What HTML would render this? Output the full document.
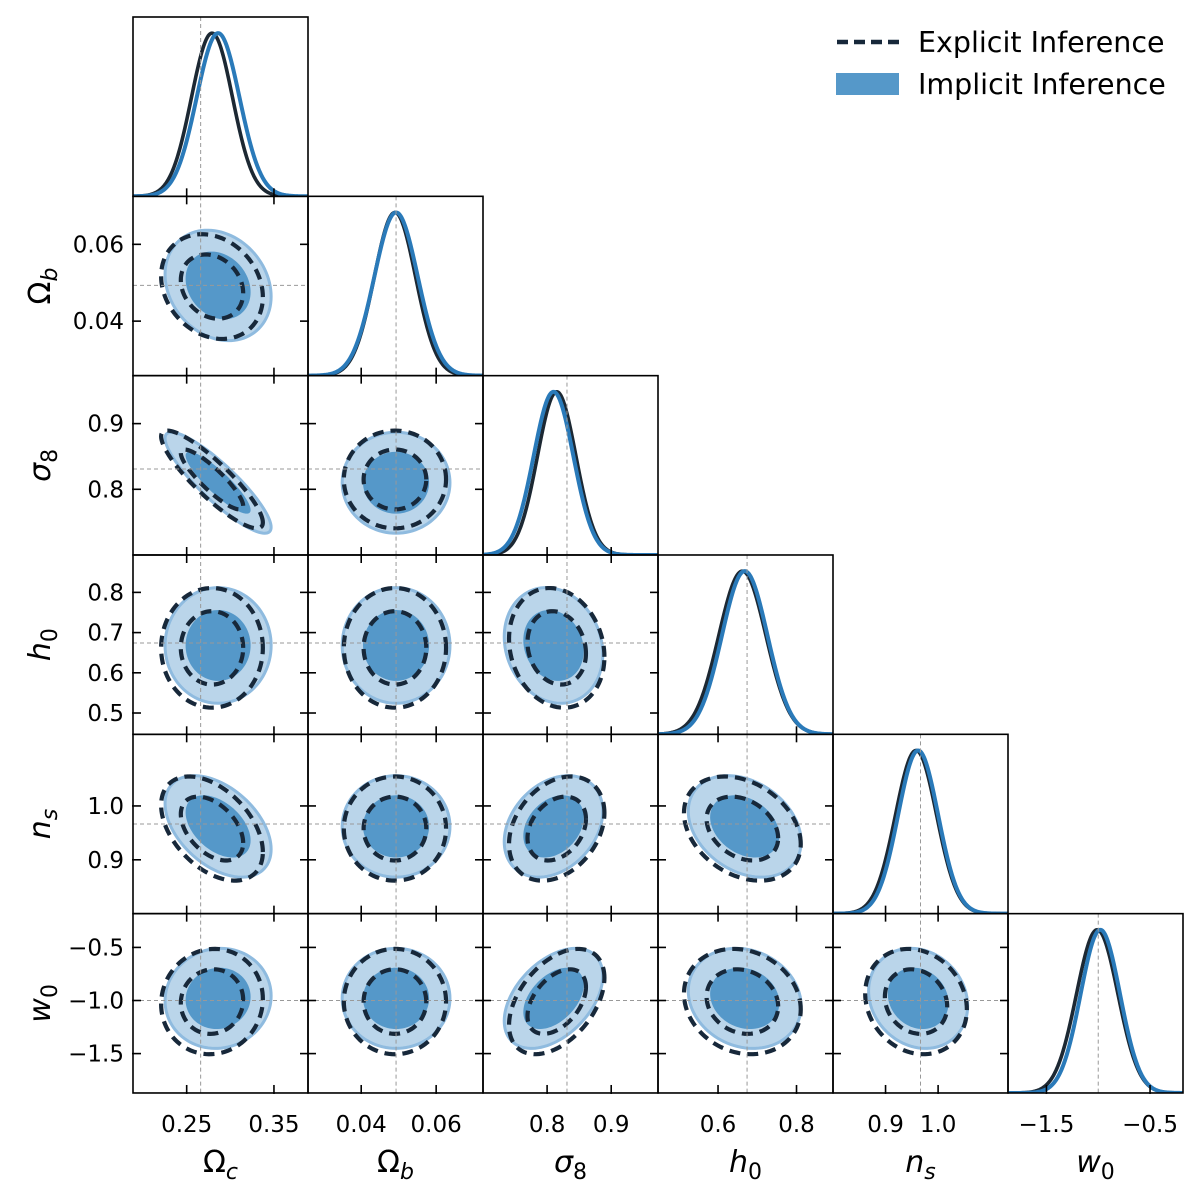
<!DOCTYPE html>
<html><head><meta charset="utf-8"><style>
html,body{margin:0;padding:0;background:#fff;}
svg{display:block;font-family:"DejaVu Sans","Liberation Sans",sans-serif;}
</style></head><body>
<svg id="chart" width="1200" height="1197" viewBox="0 0 1200 1197" xmlns="http://www.w3.org/2000/svg"></svg>
<script>
const paramNames = ["Ωc","Ωb","σ8","h0","ns","w0"];
const axisMin = [0.1885, 0.0258, 0.700, 0.447, 0.800, -1.871];
const axisMax = [0.389, 0.0725, 0.973, 0.893, 1.133, -0.182];
const truthValues = [0.266, 0.0493, 0.831, 0.674, 0.9665, -1.0];
const implicitMean = [0.286, 0.0493, 0.810, 0.668, 0.962, -0.98];
const explicitMean = [0.279, 0.0490, 0.815, 0.662, 0.958, -1.01];
const implicitSigma = [0.0245, 0.0058, 0.031, 0.058, 0.038, 0.19];
const explicitSigma = [0.0235, 0.0055, 0.030, 0.060, 0.039, 0.20];
const correlation = [
 [1, -0.2, -0.88, 0.0, -0.45, 0.05],
 [-0.2, 1, 0.0, 0.0, 0.0, 0.0],
 [-0.88, 0.0, 1, -0.15, 0.3, 0.45],
 [0.0, 0.0, -0.15, 1, -0.3, -0.15],
 [-0.45, 0.0, 0.3, -0.3, 1, -0.15],
 [0.05, 0.0, 0.45, -0.15, -0.15, 1]
];
const tickValues = [[0.25,0.35],[0.04,0.06],[0.8,0.9],[0.6,0.8],[0.9,1.0],[-1.5,-0.5]];
const yTickValues = [[],[0.04,0.06],[0.8,0.9],[0.5,0.6,0.7,0.8],[0.9,1.0],[-1.5,-1.0,-0.5]];
const tickLabels = [["0.25","0.35"],["0.04","0.06"],["0.8","0.9"],["0.6","0.8"],["0.9","1.0"],["−1.5","−0.5"]];
const yTickLabels = [[],["0.04","0.06"],["0.8","0.9"],["0.5","0.6","0.7","0.8"],["0.9","1.0"],["−1.5","−1.0","−0.5"]];

const NS="http://www.w3.org/2000/svg";
const svg=document.getElementById("chart");
const L0=133, PW=175, T0=17, PH=179.33;
function el(tag,attrs,parent){const e=document.createElementNS(NS,tag);for(const k in attrs)e.setAttribute(k,attrs[k]);(parent||svg).appendChild(e);return e;}
function xs(i,v,c){return L0+c*PW+(v-axisMin[i])/(axisMax[i]-axisMin[i])*PW;}
function ys(j,v,r){return T0+(r+1)*PH-(v-axisMin[j])/(axisMax[j]-axisMin[j])*PH;}

function ellipsePath(i,j,mean,sig,k,r,c){
  const sx=sig[i], sy=sig[j], rho=correlation[i][j];
  let d="";
  for(let t=0;t<=100;t++){
    const a=t/100*2*Math.PI;
    const u=k*Math.cos(a), w=k*Math.sin(a);
    const vx=mean[i]+sx*u;
    const vy=mean[j]+sy*(rho*u+Math.sqrt(1-rho*rho)*w);
    d+=(t?"L":"M")+xs(i,vx,c).toFixed(2)+","+ys(j,vy,r).toFixed(2);
  }
  return d+"Z";
}

for(let r=0;r<6;r++){
  for(let c=0;c<=r;c++){
    const g=el("g",{});
    
    
    const px=L0+c*PW, py=T0+r*PH;
    const cid="clip"+r+c;
    const cp=el("clipPath",{id:cid},g);
    el("rect",{x:px,y:py,width:PW,height:PH},cp);
    const inner=el("g",{"clip-path":"url(#"+cid+")"},g);
    if(r===c){
      const i=c;
      const ymax=py+PH*0.09, base=py+PH;
      [[explicitMean,explicitSigma,"#1c2833",3.6,"explicit-pdf"],[implicitMean,implicitSigma,"#2a7ab9",4,"implicit-pdf"]].forEach(([m,s,col,w,name])=>{
        let d="";
        for(let t=0;t<=200;t++){
          const v=axisMin[i]+(axisMax[i]-axisMin[i])*t/200;
          const p=Math.exp(-0.5*Math.pow((v-m[i])/s[i],2));
          d+=(t?"L":"M")+xs(i,v,c).toFixed(2)+","+(base-(base-ymax)*p).toFixed(2);
        }
        const pth=el("path",{d:d,fill:"none",stroke:col,"stroke-width":w},inner);
        
        
      });
      el("line",{x1:xs(i,truthValues[i],c),x2:xs(i,truthValues[i],c),y1:py,y2:py+PH,stroke:"#999","stroke-width":1,"stroke-dasharray":"4,3"},inner);
    } else {
      const i=c, j=r;
      const p1=el("path",{d:ellipsePath(i,j,implicitMean,implicitSigma,2.48,r,c),fill:"#bad5ea",stroke:"#8fbbdf","stroke-width":3},inner);
      
      
      const p2=el("path",{d:ellipsePath(i,j,implicitMean,implicitSigma,1.52,r,c),fill:"#5598c9",stroke:"none"},inner);
      
      
      [2.48,1.52].forEach(k=>{
        const p=el("path",{d:ellipsePath(i,j,explicitMean,explicitSigma,k,r,c),fill:"none",stroke:"#17283a","stroke-width":4.2,"stroke-dasharray":"11,7"},inner);
        
        
      });
      el("line",{x1:xs(i,truthValues[i],c),x2:xs(i,truthValues[i],c),y1:py,y2:py+PH,stroke:"#999","stroke-width":1,"stroke-dasharray":"4,3"},inner);
      el("line",{x1:px,x2:px+PW,y1:ys(j,truthValues[j],r),y2:ys(j,truthValues[j],r),stroke:"#999","stroke-width":1,"stroke-dasharray":"4,3"},inner);
      yTickValues[j].forEach(v=>{
        const y=ys(j,v,r);
        el("line",{x1:px-1,x2:px+8,y1:y,y2:y,stroke:"#000","stroke-width":1.6},g);
        el("line",{x1:px+PW-8,x2:px+PW+1,y1:y,y2:y,stroke:"#000","stroke-width":1.6},g);
      });
      tickValues[i].forEach(v=>{
        const x=xs(i,v,c);
        el("line",{x1:x,x2:x,y1:py-1,y2:py+8,stroke:"#000","stroke-width":1.6},g);
      });
    }
    tickValues[c].forEach(v=>{
      const x=xs(c,v,c);
      el("line",{x1:x,x2:x,y1:py+PH-8,y2:py+PH+1,stroke:"#000","stroke-width":1.6},g);
    });
    el("rect",{x:px,y:py,width:PW,height:PH,fill:"none",stroke:"#000","stroke-width":1.6},g);
  }
}
for(let c=0;c<6;c++){
  tickValues[c].forEach((v,k)=>{
    const t=el("text",{x:xs(c,v,c),y:1132,"font-size":23,"text-anchor":"middle",fill:"#000"});
    t.textContent=tickLabels[c][k];
    
    
  });
}
for(let r=1;r<6;r++){
  yTickValues[r].forEach((v,k)=>{
    const t=el("text",{x:124,y:ys(r,v,r)+8,"font-size":23,"text-anchor":"end",fill:"#000"});
    t.textContent=yTickLabels[r][k];
    
    
  });
}
const labelMain=["Ω","Ω","σ","h","n","w"];
const labelSub=["c","b","8","0","s","0"];
const labelItalic=[false,false,true,true,true,true];
const subItalic=[true,true,false,false,true,false];
function mathLabel(parent,k){
  const a=el("tspan",{"font-style":labelItalic[k]?"italic":"normal"},parent);a.textContent=labelMain[k];
  const b=el("tspan",{"font-size":22,dy:7,"font-style":subItalic[k]?"italic":"normal"},parent);b.textContent=labelSub[k];
}
for(let c=0;c<6;c++){
  const t=el("text",{x:L0+c*PW+PW/2,y:1172,"font-size":30,"text-anchor":"middle",fill:"#000"});
  
  
  mathLabel(t,c);
}
for(let r=1;r<6;r++){
  const cy=T0+r*PH+PH/2;
  const t=el("text",{x:0,y:0,"font-size":30,"text-anchor":"middle",fill:"#000",transform:"translate(50,"+cy+") rotate(-90)"});
  
  
  mathLabel(t,r);
}
const lg=el("g",{});


el("line",{x1:837,x2:900,y1:42,y2:42,stroke:"#17283a","stroke-width":4.5,"stroke-dasharray":"11,6"},lg);
const t1=el("text",{x:918,y:52,"font-size":28.5,fill:"#000"},lg);t1.textContent="Explicit Inference";


el("rect",{x:836,y:73,width:63,height:22,fill:"#5598c9"},lg);
const t2=el("text",{x:918,y:94,"font-size":28.5,fill:"#000"},lg);t2.textContent="Implicit Inference";


</script>
</body></html>
